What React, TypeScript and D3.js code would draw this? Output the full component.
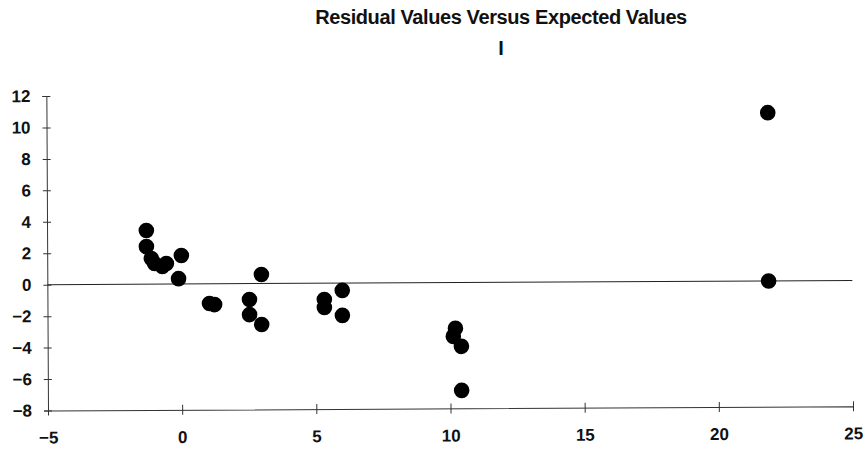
import React, { useEffect, useRef } from "react";
import * as d3 from "d3";

// expected values (x) and residuals (y)
const expected = [
  -1.3, -1.3, -1.12, -1.0, -0.71, -0.56, 0.0, -0.11,
  1.04, 1.23, 2.53, 2.53, 2.98, 2.98,
  5.32, 5.32, 5.99, 5.99,
  10.2, 10.12, 10.42, 10.42,
  21.88, 21.88,
];
const residuals = [
  3.41, 2.39, 1.63, 1.31, 1.12, 1.31, 1.81, 0.34,
  -1.25, -1.32, -1.01, -1.97, -2.6, 0.58,
  -1.03, -1.54, -0.46, -2.05,
  -2.91, -3.42, -4.06, -6.86,
  10.7, 0.0,
];
const xTicks = [-5, 0, 5, 10, 15, 20, 25];
const yTicks = [-8, -6, -4, -2, 0, 2, 4, 6, 8, 10, 12];
const title = "Residual Values Versus Expected Values";
const subtitle = "I";

const W = 866;
const H = 452;
const margin = { top: 96, right: 13, bottom: 41.5, left: 48 };

const App = () => {
  const ref = useRef<SVGSVGElement>(null);

  useEffect(() => {
    const svg = d3.select(ref.current);
    svg.selectAll("*").remove();

    const x = d3
      .scaleLinear()
      .domain([-5, 25])
      .range([margin.left, W - margin.right]);
    const y = d3
      .scaleLinear()
      .domain([-8, 12])
      .range([H - margin.bottom, margin.top]);

    const font = "'Liberation Sans', Arial, sans-serif";

    // title
    svg
      .append("text")
      .attr("x", 501)
      .attr("y", 24)
      .attr("text-anchor", "middle")
      .style("font-family", font)
      .style("font-weight", "bold")
      .style("font-size", "20px")
      .style("letter-spacing", "-0.4px")
      .attr("fill", "#111")
      .text(title);
    svg
      .append("text")
      .attr("x", 501)
      .attr("y", 55)
      .attr("text-anchor", "middle")
      .style("font-family", font)
      .style("font-weight", "bold")
      .style("font-size", "20px")
      .attr("fill", "#111")
      .text(subtitle);

    // the scanned page is tilted a little
    const plot = svg
      .append("g")
      .attr("transform", `rotate(-0.3, ${x(-5)}, ${y(-8)})`);

    // reference line at zero residual
    plot
      .append("line")
      .attr("x1", x(-5))
      .attr("x2", x(25))
      .attr("y1", y(0))
      .attr("y2", y(0))
      .attr("stroke", "#222")
      .attr("stroke-width", 1);

    // Add Y axis
    const yAxis = plot
      .append("g")
      .attr("transform", "translate(" + x(-5) + ",0)")
      .call(d3.axisLeft(y).tickValues(yTicks).tickSize(4).tickPadding(12));
    yAxis.select(".domain").attr("stroke", "#333");
    yAxis.selectAll(".tick line").attr("x1", 4).attr("x2", -4).attr("stroke", "#333");
    yAxis
      .selectAll(".tick text")
      .style("font-family", font)
      .style("font-weight", "bold")
      .style("font-size", "17px")
      .attr("fill", "#111");

    // Add X axis
    const xAxis = plot
      .append("g")
      .attr("transform", "translate(0," + y(-8) + ")")
      .call(d3.axisBottom(x).tickValues(xTicks).tickSize(4).tickPadding(17));
    xAxis.select(".domain").attr("stroke", "#333");
    xAxis.selectAll(".tick line").attr("y1", -5).attr("y2", 5).attr("stroke", "#333");
    xAxis
      .selectAll(".tick text")
      .style("font-family", font)
      .style("font-weight", "bold")
      .style("font-size", "17px")
      .attr("fill", "#111");

    // Add dots
    plot
      .append("g")
      .selectAll("circle")
      .data(expected.map((e, i) => ({ e, r: residuals[i] })))
      .enter()
      .append("circle")
      .attr("cx", (d) => x(d.e))
      .attr("cy", (d) => y(d.r))
      .attr("r", 7.8)
      .attr("fill", "#000");
  }, []);

  return (
    <svg
      ref={ref}
      width={W}
      height={H}
      style={{ position: "absolute", left: 0, top: 0, background: "#fff" }}
    />
  );
};

export default App;
